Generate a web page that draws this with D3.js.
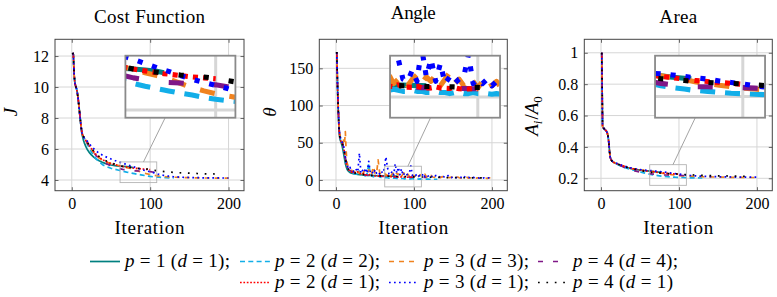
<!DOCTYPE html>
<html><head><meta charset="utf-8">
<script src="https://cdn.jsdelivr.net/npm/d3@7"></script>
<style>body{margin:0;background:#fff}</style>
</head><body>
<svg id="chart" width="777" height="297"></svg>
<script>
// ---------------- DATA ----------------
const iterCoarse = [1,2,3,4,5,6,7,8,9,10,11,12,13,14,15,16,18,20,22,25,28,31,35,40,45,50,55,60,65,70,75,78,80,85,90,95,100,105,110,115,120,130,140,150,160,170,180,190,200];
const iterFine = [1,2,3,4,5,6,7,8,9,10,11,12,13,14,15,16,17,18,19,20,
  22,24,26,28,30,32,34,36,38,40,42,44,46,48,50,52,54,56,58,60,
  62,64,66,68,70,72,74,76,78,80,82,84,86,88,90,92,94,96,98,100,
  102,104,106,108,110,112,114,116,118,120,122,124,126,128,130,132,134,136,138,140,
  142,144,146,148,150,152,154,156,158,160,162,164,166,168,170,172,174,176,178,180,
  182,184,186,188,190,192,194,196,198,200];

const xTicks = [0,100,200];
const legendLabels = ["p = 1 (d = 1);","p = 2 (d = 2);","p = 3 (d = 3);","p = 4 (d = 4);","p = 2 (d = 1);","p = 3 (d = 1);","p = 4 (d = 1)"];
const panelTitles = ["Cost Function","Angle","Area"];

// Cost function J (on iterCoarse)
const costP1D1 = [12.2,12.1,10.8,10.25,10.05,9.9,9.65,9.3,8.85,8.35,7.85,7.35,6.95,6.75,6.55,6.4,6.15,5.95,5.8,5.62,5.48,5.36,5.24,5.12,5.03,4.97,4.93,4.9,4.88,4.86,4.83,4.8];
const costP2D2 = [12.2,12.1,10.8,10.25,10.05,9.9,9.65,9.3,8.85,8.35,7.85,7.4,7.05,6.9,6.8,6.7,6.5,6.3,6.1,5.82,5.58,5.38,5.17,4.97,4.85,4.76,4.69,4.63,4.57,4.51,4.46,4.43,4.41,4.36,4.32,4.27,4.23,4.2,4.18,4.16,4.15,4.13];
const costP3D3 = [12.2,12.1,10.8,10.25,10.05,9.9,9.65,9.3,8.85,8.35,7.85,7.4,7.05,6.9,6.8,6.7,6.5,6.35,6.2,5.98,5.78,5.6,5.42,5.26,5.14,5.06,4.99,4.93,4.87,4.8,4.74,4.7,4.67,4.57,4.48,4.41,4.35,4.3,4.26,4.23,4.21,4.18,4.16,4.15,4.14,4.13,4.13,4.12,4.12];
const costP4D4 = [12.2,12.1,10.8,10.25,10.05,9.9,9.65,9.3,8.85,8.35,7.85,7.4,7.05,6.9,6.8,6.7,6.55,6.4,6.22,5.98,5.76,5.58,5.38,5.18,5.03,4.91,4.82,4.75,4.69,4.65,4.62,4.6,4.59,4.58,4.56,4.55,4.54,4.5,4.46,4.43];
const costP2D1 = [12.2,12.1,10.8,10.25,10.05,9.9,9.65,9.3,8.85,8.35,7.85,7.4,7.05,6.9,6.8,6.7,6.55,6.4,6.25,6.03,5.83,5.65,5.46,5.29,5.16,5.06,4.99,4.93,4.88,4.84,4.8,4.78,4.77,4.74,4.71,4.69,4.67];
const costP3D1 = [12.2,12.1,10.8,10.25,10.05,9.9,9.65,9.3,8.85,8.35,7.85,7.4,7.05,6.9,6.8,6.7,6.62,6.5,6.37,6.18,6.02,5.88,5.72,5.58,5.46,5.36,5.26,5.17,5.09,5.0,4.91,4.86,4.83,4.74,4.66,4.59,4.53,4.46,4.38,4.32,4.27,4.21,4.18,4.16,4.15,4.14,4.14,4.13,4.13];
const costP4D1 = [12.2,12.1,10.8,10.25,10.05,9.9,9.65,9.3,8.85,8.35,7.85,7.4,7.05,6.9,6.8,6.7,6.58,6.42,6.27,6.06,5.86,5.69,5.51,5.34,5.21,5.11,5.02,4.94,4.88,4.84,4.81,4.79,4.78,4.75,4.73,4.71,4.68,4.63,4.59,4.56,4.53,4.49,4.46,4.44,4.42,4.4,4.39,4.38];

// Angle theta (on iterFine)
const angleP1D1 = [172,125,90,64,55,52,49,45,40,34,28,22,18,15,13,12,11,10,9.5,9,
  8.5,8,7.8,7.5,7.2,7,6.8,6.7,6.5,6.3,6.2,6.1,6,5.9,5.8,5.7,5.7,5.6,5.5,5.5,5.4,5.4,5.3,5.3,5.2,5.2,5.1,5.1,5];
const angleP2D2 = [172,124,92,68,58,54,52,50,47,42,36,29,23,19,16,14,13,12,11,10,
  9,8.5,8,7.5,12,7,6.5,6,5.5,9,22,8,5,4.5,4,4.5,6,4,3.5,3.5,3,3.5,3,2.5,2.5,3,2.5,2.5,2,2,
  2.5,2,2,1.5,2,2,1.5,1.5,2,1.5,1.5,1.5,1.2,1.5,1.2,1.2,1.5,1.2,1.2,1,1.2,1,1,1,1];
const angleP3D3 = [172,126,95,70,60,56,54,52,50,55,50,65,40,25,20,17,16,15,14,13,
  12,11,15,10,9,13,8,12,9,8,14,7,10,18,9,8,27,10,7,9,
  10,6,8,9,5,8,10,6,9,7,10,5,8,11,6,8,5,9,7,4,
  7,9,5,7,4,6,8,4,5,3,6,4,3.5,5,3.5,4.5,3,4.5,3.5,3,
  4.5,3.5,3,4,3,3.5,2.5,4,3,2.5,3.5,3,2.5,3.5,2.5,3,2.5,3.5,2.5,2.5,
  3,2.5,2.5,3,2.5,2.5,2,3,2.5,2.5];
const angleP4D4 = [172,125,93,69,58,54,52,50,47,43,37,30,24,20,17,15,14,13,12,11,
  10,9.5,9,8.5,8,7.5,7,7,6.5,6.5,6,6,5.8,5.6,5.5,5.4,5.2,5,5,4.8,
  4.7,4.6,4.5,4.5,4.4,4.3,4.3,4.2,4.2,4.1,4,4,4,3.9,3.9,3.8,3.8,3.8,3.7,3.7,
  3.6,3.6,3.5,3.5,3.5,3.4,3.4,3.3];
const angleP2D1 = [172,125,91,66,57,53,51,49,46,42,36,29,23,19,16,14,13,12,11,10.5,
  10,9.5,9,11,8.5,8,7.5,9,7,6.5,6.5,8,6,6,5.5,6.5,5.5,5,5,6,
  4.8,4.6,5.5,4.5,4.4,4.3,5,4.2,4.1,4,4.5,4,3.9,3.8,4.2,3.7,3.6,3.6,3.8,3.5];
const angleP3D1 = [172,126,94,70,60,56,54,51,48,44,38,31,25,21,18,16,15,17,14,13,
  12,10,14,11,36,9,13,10,16,9,25,10,12,8,14,9,11,8,12,9,
  15,31,17,8,7,12,7,22,9,17,7,15,6,9,6,8,9,19,6,8,
  6,8,5,7,5,9,4,6,5,7,4.5,5,3.5,6,4,3.5,5,3.5,4.5,3,
  4.5,6,3.5,3,4.5,3.5,3,4,3,3.5,3,5.5,3,3,3.5,3,2.5,3.5,3,2.5,
  3,2.5,3,2.5,3,2.5,2.5,3,2.5,2.5];
const angleP4D1 = [172,125,92,67,57,53,51,49,46,42,36,29,23,19,16,14,13,12,11,10.5,
  10,9.5,9,8.5,8,7.8,7.5,7.2,7,6.8,6.6,6.4,6.2,6,5.9,5.8,5.7,5.6,5.5,5.4,
  5.3,5.2,5.1,5,5,4.9,4.8,4.8,4.7,4.7,4.6,4.6,4.5,4.5,4.5,4.4,4.4,4.4,4.3,4.3,
  4.2,4.2,4.1,4.1,4,4,3.9,3.9,3.8,3.8,3.7,3.7,3.6,3.6,3.5,3.5,3.5,3.4,3.4,3.4,
  3.3,3.3,3.3,3.2,3.2,3.2,3.1,3.1,3.1,3,3,3,3,2.9,2.9,2.9,2.8,2.8,2.8,2.8,
  2.7,2.7,2.7,2.7,2.6];

// Area Ai/A0 (on iterCoarse)
const areaP1D1 = [1.0,0.53,0.522,0.516,0.511,0.506,0.5,0.49,0.47,0.43,0.37,0.33,0.318,0.311,0.306,0.302,0.297,0.293,0.289,0.283,0.277,0.272,0.266,0.26,0.256,0.252,0.249,0.247,0.244,0.241,0.239,0.238];
const areaP2D2 = [1.0,0.53,0.522,0.516,0.511,0.506,0.5,0.49,0.47,0.43,0.37,0.33,0.318,0.311,0.306,0.302,0.296,0.291,0.286,0.279,0.273,0.267,0.261,0.254,0.248,0.241,0.235,0.229,0.223,0.219,0.216,0.214,0.213,0.211,0.209,0.207,0.206,0.205,0.204,0.203,0.203,0.202];
const areaP3D3 = [1.0,0.53,0.522,0.516,0.511,0.506,0.5,0.49,0.47,0.43,0.37,0.33,0.318,0.311,0.306,0.302,0.298,0.294,0.29,0.284,0.279,0.274,0.268,0.262,0.257,0.253,0.25,0.247,0.244,0.24,0.236,0.233,0.231,0.228,0.224,0.221,0.218,0.216,0.214,0.213,0.212,0.21,0.209,0.208,0.207,0.206,0.206,0.205,0.205];
const areaP4D4 = [1.0,0.53,0.522,0.516,0.511,0.506,0.5,0.49,0.47,0.43,0.37,0.33,0.318,0.311,0.306,0.302,0.297,0.292,0.288,0.281,0.274,0.267,0.259,0.251,0.245,0.24,0.236,0.232,0.228,0.225,0.223,0.222,0.221,0.221,0.22,0.22,0.219,0.218,0.217,0.216];
const areaP2D1 = [1.0,0.53,0.522,0.516,0.511,0.506,0.5,0.49,0.47,0.43,0.37,0.33,0.318,0.311,0.306,0.302,0.298,0.294,0.29,0.284,0.279,0.274,0.268,0.262,0.257,0.253,0.249,0.246,0.243,0.24,0.237,0.235,0.234,0.232,0.23,0.228,0.226];
const areaP3D1 = [1.0,0.53,0.522,0.516,0.511,0.506,0.5,0.49,0.47,0.43,0.37,0.33,0.318,0.311,0.306,0.302,0.3,0.296,0.292,0.286,0.281,0.276,0.27,0.264,0.26,0.256,0.253,0.25,0.2485,0.246,0.243,0.241,0.24,0.237,0.233,0.23,0.227,0.223,0.22,0.218,0.216,0.213,0.211,0.21,0.209,0.208,0.208,0.207,0.207];
const areaP4D1 = [1.0,0.53,0.522,0.516,0.511,0.506,0.5,0.49,0.47,0.43,0.37,0.33,0.318,0.311,0.306,0.302,0.298,0.294,0.29,0.284,0.278,0.273,0.267,0.261,0.256,0.251,0.246,0.242,0.238,0.236,0.234,0.233,0.232,0.23,0.229,0.228,0.227,0.225,0.223,0.222,0.221,0.219,0.217,0.216,0.215,0.214,0.213,0.213];

const costTicks = [4,6,8,10,12];
const angleTicks = [0,50,100,150];
const areaTicks = [0.2,0.4,0.6,0.8,1];

// ---------------- STYLE / LAYOUT ----------------
const FONT = "Liberation Serif";
const styles = [
  {color:"#008080", dash:null},
  {color:"#12aee8", dash:"5,3.3"},
  {color:"#f0821e", dash:"5,5"},
  {color:"#7f1787", dash:"5,10"},
  {color:"#ff0000", dash:"1.7,1.7"},
  {color:"#0000ff", dash:"1.7,3.3"},
  {color:"#000000", dash:"1.7,6.7"}
];
const LW = 1.7;
const TOP = 39.3, BOTTOM = 190.7;
const X_DOMAIN = [-21.4, 219.7];
const MAG = 3, INSET_W = 110, INSET_H = 62;

const panels = [
  {x0:55, x1:244, yDomain:[3.31,13.08], yTicks:costTicks, iters:iterCoarse,
   series:[costP1D1,costP2D2,costP3D3,costP4D4,costP2D1,costP3D1,costP4D1],
   spy:[85,4.5], titleY:22.7, titleW:111, fmt:d3.format("d"), ylab:"J", ylabX:17},
  {x0:319.3, x1:507.3, yDomain:[-14.4,189], yTicks:angleTicks, iters:iterFine,
   series:[angleP1D1,angleP2D2,angleP3D3,angleP4D4,angleP2D1,angleP3D1,angleP4D1],
   spy:[86,4.6], titleY:19.3, titleW:45, fmt:d3.format("d"), ylab:"θ", ylabX:276},
  {x0:584.3, x1:772.3, yDomain:[0.121,1.086], yTicks:areaTicks, iters:iterCoarse,
   series:[areaP1D1,areaP2D2,areaP3D3,areaP4D4,areaP2D1,areaP3D1,areaP4D1],
   spy:[86,0.221], titleY:22.7, titleW:38, fmt:(v)=> v===1 ? "1" : d3.format(".1f")(v), ylab:"area", ylabX:538}
];

const svg = d3.select("#chart");
const defs = svg.append("defs");
function txt(sel){ return sel.append("text").attr("font-family",FONT).attr("fill","#000"); }

panels.forEach((P, i) => {
  const x = d3.scaleLinear().domain(X_DOMAIN).range([P.x0, P.x1]);
  const y = d3.scaleLinear().domain(P.yDomain).range([BOTTOM, TOP]);

  defs.append("clipPath").attr("id","clip"+i).append("rect")
    .attr("x",P.x0).attr("y",TOP).attr("width",P.x1-P.x0).attr("height",BOTTOM-TOP);

  const content = svg.append("g").attr("id","content"+i).attr("clip-path",`url(#clip${i})`);
  content.append("rect").attr("x",P.x0).attr("y",TOP).attr("width",P.x1-P.x0).attr("height",BOTTOM-TOP).attr("fill","#fff");
  content.selectAll("line.gx").data(xTicks).join("line").attr("class","gx")
    .attr("x1",d=>x(d)).attr("x2",d=>x(d)).attr("y1",TOP).attr("y2",BOTTOM)
    .attr("stroke","#d6d6d6").attr("stroke-width",1);
  content.selectAll("line.gy").data(P.yTicks).join("line").attr("class","gy")
    .attr("y1",d=>y(d)).attr("y2",d=>y(d)).attr("x1",P.x0).attr("x2",P.x1)
    .attr("stroke","#d6d6d6").attr("stroke-width",1);
  const line = d3.line().x(d=>x(d[0])).y(d=>y(d[1]));
  P.series.forEach((vals, s) => {
    const pts = vals.map((v,k)=>[P.iters[k], v]);
    content.append("path").attr("d", line(pts)).attr("fill","none")
      .attr("stroke", styles[s].color).attr("stroke-width", LW)
      .attr("stroke-dasharray", styles[s].dash).attr("stroke-linejoin","round");
  });

  svg.append("rect").attr("x",P.x0).attr("y",TOP).attr("width",P.x1-P.x0).attr("height",BOTTOM-TOP)
    .attr("fill","none").attr("stroke","#444").attr("stroke-width",1);
  const axB = svg.append("g").attr("transform",`translate(0,${BOTTOM})`)
    .call(d3.axisBottom(x).tickValues(xTicks).tickSizeInner(-3.5).tickSizeOuter(0).tickPadding(7).tickFormat(d3.format("d")));
  const axL = svg.append("g").attr("transform",`translate(${P.x0},0)`)
    .call(d3.axisLeft(y).tickValues(P.yTicks).tickSizeInner(-3.5).tickSizeOuter(0).tickPadding(6).tickFormat(P.fmt));
  const axT = svg.append("g").attr("transform",`translate(0,${TOP})`)
    .call(d3.axisTop(x).tickValues(xTicks).tickSizeInner(-3.5).tickSizeOuter(0).tickFormat(""));
  const axR = svg.append("g").attr("transform",`translate(${P.x1},0)`)
    .call(d3.axisRight(y).tickValues(P.yTicks).tickSizeInner(-3.5).tickSizeOuter(0).tickFormat(""));
  [axB,axL,axT,axR].forEach(a => {
    a.attr("font-family", FONT).attr("font-size",16);
    a.select(".domain").remove();
    a.selectAll(".tick line").attr("stroke","#444").attr("stroke-width",0.8);
    a.selectAll("text").attr("fill","#000").attr("font-family",FONT);
  });

  const sx = x(P.spy[0]), sy = y(P.spy[1]);
  const sw = INSET_W/MAG, sh = INSET_H/MAG;
  const icx = sx + 42, icy = 86.7;
  svg.append("rect").attr("x",sx-sw/2).attr("y",sy-sh/2).attr("width",sw).attr("height",sh)
    .attr("fill","none").attr("stroke","#b4b4b4").attr("stroke-width",0.9);
  const dx = icx-sx, dy = icy-sy;
  const t0 = Math.min((sw/2)/Math.abs(dx),(sh/2)/Math.abs(dy));
  const t1 = 1 - Math.min((INSET_W/2)/Math.abs(dx),(INSET_H/2)/Math.abs(dy));
  svg.append("line").attr("x1",sx+t0*dx).attr("y1",sy+t0*dy).attr("x2",sx+t1*dx).attr("y2",sy+t1*dy)
    .attr("stroke","#999").attr("stroke-width",0.9);
  defs.append("clipPath").attr("id","iclip"+i).append("rect")
    .attr("x",icx-INSET_W/2).attr("y",icy-INSET_H/2).attr("width",INSET_W).attr("height",INSET_H);
  const ig = svg.append("g").attr("clip-path",`url(#iclip${i})`);
  ig.append("rect").attr("x",icx-INSET_W/2).attr("y",icy-INSET_H/2).attr("width",INSET_W).attr("height",INSET_H).attr("fill","#fff");
  ig.append("use").attr("href","#content"+i)
    .attr("transform",`translate(${icx},${icy}) scale(${MAG}) translate(${-sx},${-sy})`);
  svg.append("rect").attr("x",icx-INSET_W/2).attr("y",icy-INSET_H/2).attr("width",INSET_W).attr("height",INSET_H)
    .attr("fill","none").attr("stroke","#8a8a8a").attr("stroke-width",1.8);

  const cx = (P.x0+P.x1)/2;
  txt(svg).attr("x",cx).attr("y",P.titleY).attr("text-anchor","middle")
    .attr("font-size",19).attr("textLength",P.titleW).attr("lengthAdjust","spacing").text(panelTitles[i]);
  txt(svg).attr("x",cx).attr("y",234.3).attr("text-anchor","middle")
    .attr("font-size",19).attr("textLength",70).attr("lengthAdjust","spacing").text("Iteration");
  const yl = txt(svg).attr("transform",`translate(${P.ylabX},${i===2?116:112}) rotate(-90)`)
    .attr("text-anchor","middle").attr("font-size",19);
  if (P.ylab === "area") {
    yl.append("tspan").attr("font-style","italic").text("A");
    yl.append("tspan").attr("font-style","italic").attr("font-size",13).attr("dy",4).text("i");
    yl.append("tspan").attr("dy",-4).attr("dx",1).text("/");
    yl.append("tspan").attr("font-style","italic").text("A");
    yl.append("tspan").attr("font-size",13).attr("dy",4).text("0");
  } else {
    yl.append("tspan").attr("font-style","italic").text(P.ylab);
  }
});

const colX = [90, 240, 389, 538];
const rowY = [261.5, 282.5];
const legendPos = [[0,0],[0,1],[0,2],[0,3],[1,1],[1,2],[1,3]];
legendLabels.forEach((lab, s) => {
  const [r,c] = legendPos[s];
  const lx = colX[c], ly = rowY[r];
  svg.append("line").attr("x1",lx).attr("x2",lx+30).attr("y1",ly).attr("y2",ly)
    .attr("stroke",styles[s].color).attr("stroke-width",LW).attr("stroke-dasharray",styles[s].dash);
  const t = txt(svg).attr("x",lx+35).attr("y",ly+5.5).attr("font-size",19)
    .attr("textLength", lab.endsWith(";") ? 105 : 100).attr("lengthAdjust","spacing");
  let buf = "";
  const flush = () => { if (buf) { t.append("tspan").text(buf); buf = ""; } };
  for (const ch of lab) {
    if (ch === "p" || ch === "d") { flush(); t.append("tspan").attr("font-style","italic").text(ch); }
    else buf += ch;
  }
  flush();
});
</script>
</body></html>
